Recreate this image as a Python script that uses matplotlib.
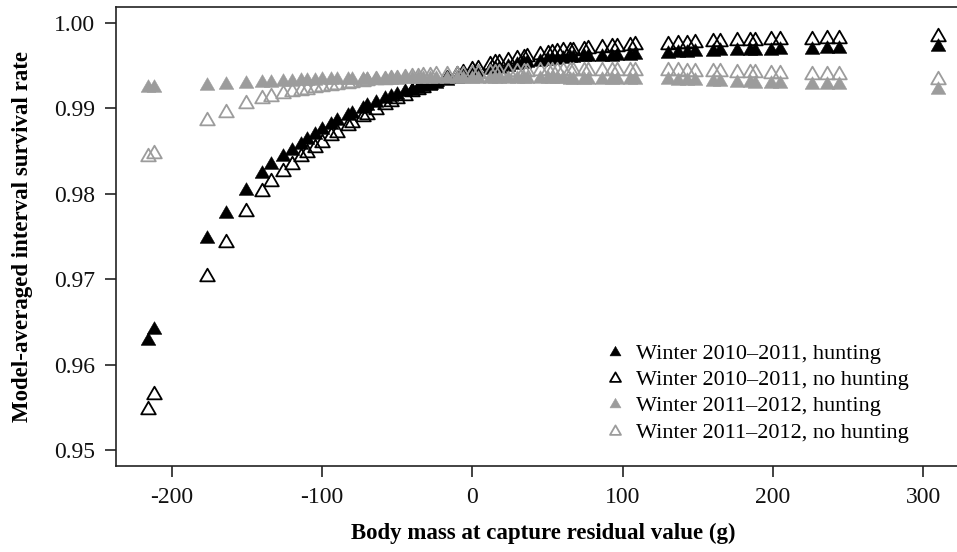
import matplotlib
matplotlib.use('Agg')
import matplotlib.pyplot as plt
from matplotlib.path import Path

# Body mass at capture residual value (g), one per bird
mass = [-216, -212, -177, -164, -151, -140, -134, -126, -120, -114,
        -110, -105, -100, -94, -90, -83, -80, -73, -70, -64,
        -58, -54, -50, -45, -40, -36, -33, -28, -24, -17,
        -10, -6, 0, 4, 12, 15, 18, 24, 30, 34,
        36, 45, 50, 53, 56, 60, 65, 67, 74, 77,
        86, 93, 96, 105, 108, 130, 137, 143, 148, 160,
        165, 176, 185, 188, 199, 205, 226, 236, 244, 310]

# Winter 2010-2011, hunting
w1011_hunt = [0.9630, 0.9643, 0.9749, 0.9779, 0.9806, 0.9825, 0.9836, 0.9845, 0.9852, 0.9860,
              0.9865, 0.9871, 0.9877, 0.9883, 0.9887, 0.9893, 0.9896, 0.9902, 0.9905, 0.9909,
              0.9913, 0.9916, 0.9918, 0.9921, 0.9923, 0.9925, 0.9927, 0.9929, 0.9931, 0.9934,
              0.9937, 0.9939, 0.9942, 0.9944, 0.9947, 0.9948, 0.9949, 0.9951, 0.9953, 0.9954,
              0.9955, 0.9957, 0.9958, 0.9959, 0.9959, 0.9960, 0.9961, 0.9961, 0.9962, 0.9962,
              0.9963, 0.9963, 0.9964, 0.9964, 0.9965, 0.9966, 0.9967, 0.9967, 0.9968, 0.9968,
              0.9969, 0.9969, 0.9970, 0.9970, 0.9970, 0.9971, 0.9971, 0.9972, 0.9972, 0.9974]

# Winter 2010-2011, no hunting
w1011_nohunt = [0.9549, 0.9567, 0.9705, 0.9745, 0.9781, 0.9804, 0.9816, 0.9828, 0.9836, 0.9845,
                0.9850, 0.9856, 0.9862, 0.9870, 0.9874, 0.9882, 0.9885, 0.9892, 0.9895, 0.9901,
                0.9906, 0.9910, 0.9913, 0.9917, 0.9921, 0.9924, 0.9926, 0.9930, 0.9933, 0.9937,
                0.9941, 0.9944, 0.9947, 0.9949, 0.9953, 0.9955, 0.9956, 0.9958, 0.9960, 0.9961,
                0.9962, 0.9965, 0.9966, 0.9967, 0.9968, 0.9969, 0.9970, 0.9970, 0.9971, 0.9972,
                0.9973, 0.9974, 0.9974, 0.9975, 0.9976, 0.9977, 0.9978, 0.9978, 0.9979, 0.9980,
                0.9980, 0.9981, 0.9981, 0.9981, 0.9982, 0.9982, 0.9983, 0.9984, 0.9984, 0.9986]

# Winter 2011-2012, hunting
w1112_hunt = [0.9926, 0.9926, 0.9929, 0.9930, 0.9931, 0.9932, 0.9932, 0.9933, 0.9933, 0.9934,
              0.9934, 0.9934, 0.9935, 0.9935, 0.9935, 0.9936, 0.9936, 0.9936, 0.9936, 0.9936,
              0.9936, 0.9936, 0.9936, 0.9937, 0.9937, 0.9937, 0.9937, 0.9937, 0.9937, 0.9937,
              0.9937, 0.9937, 0.9937, 0.9937, 0.9937, 0.9937, 0.9937, 0.9937, 0.9937, 0.9937,
              0.9937, 0.9937, 0.9937, 0.9937, 0.9937, 0.9937, 0.9936, 0.9936, 0.9936, 0.9936,
              0.9936, 0.9936, 0.9936, 0.9936, 0.9936, 0.9935, 0.9934, 0.9934, 0.9934, 0.9933,
              0.9933, 0.9932, 0.9932, 0.9931, 0.9931, 0.9931, 0.9930, 0.9930, 0.9930, 0.9924]

# Winter 2011-2012, no hunting
w1112_nohunt = [0.9846, 0.9849, 0.9887, 0.9897, 0.9907, 0.9913, 0.9916, 0.9919, 0.9921, 0.9923,
                0.9924, 0.9926, 0.9927, 0.9929, 0.9930, 0.9931, 0.9932, 0.9933, 0.9934, 0.9935,
                0.9936, 0.9937, 0.9937, 0.9938, 0.9939, 0.9939, 0.9940, 0.9940, 0.9941, 0.9941,
                0.9942, 0.9942, 0.9943, 0.9943, 0.9944, 0.9944, 0.9944, 0.9945, 0.9945, 0.9945,
                0.9945, 0.9946, 0.9946, 0.9946, 0.9946, 0.9946, 0.9946, 0.9946, 0.9946, 0.9946,
                0.9946, 0.9946, 0.9946, 0.9946, 0.9946, 0.9946, 0.9946, 0.9945, 0.9945, 0.9945,
                0.9945, 0.9944, 0.9944, 0.9944, 0.9943, 0.9943, 0.9942, 0.9942, 0.9941, 0.9936]

series_labels = ['Winter 2010\u20132011, hunting',
                 'Winter 2010\u20132011, no hunting',
                 'Winter 2011\u20132012, hunting',
                 'Winter 2011\u20132012, no hunting']

x_ticks = [-200, -100, 0, 100, 200, 300]
x_ticklabels = ['-200', '-100', '0', '100', '200', '300']
y_ticks = [0.95, 0.96, 0.97, 0.98, 0.99, 1.00]
y_ticklabels = ['0.95', '0.96', '0.97', '0.98', '0.99', '1.00']

plt.rcParams['font.family'] = ['Liberation Serif', 'DejaVu Serif']

fig = plt.figure(figsize=(9.57, 5.52), dpi=100)
ax = fig.add_axes([0.1212, 0.1558, 0.8920, 0.8315])

# equilateral triangle marker (like R's pch 2 / 17)
tri = Path([(-1.0, -0.80), (1.0, -0.80), (0.0, 0.93), (0.0, 0.0)],
           [Path.MOVETO, Path.LINETO, Path.LINETO, Path.CLOSEPOLY])

BLACK = '#000000'
GREY = '#9c9c9c'
ms = 10.5
mew = 1.3

ax.plot(mass, w1011_hunt, linestyle='none', marker=tri, ms=ms,
        mfc=BLACK, mec=BLACK, mew=0.4, label=series_labels[0])
ax.plot(mass, w1011_nohunt, linestyle='none', marker=tri, ms=ms,
        mfc='none', mec=BLACK, mew=mew, label=series_labels[1])
ax.plot(mass, w1112_hunt, linestyle='none', marker=tri, ms=ms,
        mfc=GREY, mec=GREY, mew=0.4, label=series_labels[2])
ax.plot(mass, w1112_nohunt, linestyle='none', marker=tri, ms=ms,
        mfc='none', mec=GREY, mew=mew, label=series_labels[3])

ax.set_xlim(-237.3, 331)
ax.set_ylim(0.94813, 1.00187)
ax.set_xticks(x_ticks)
ax.set_xticklabels(x_ticklabels)
ax.set_yticks(y_ticks)
ax.set_yticklabels(y_ticklabels)

for s in ['top', 'left', 'bottom', 'right']:
    ax.spines[s].set_linewidth(1.2)
    ax.spines[s].set_color('#222222')
ax.tick_params(direction='out', length=8, width=1.2, labelsize=17,
               colors='#222222', labelcolor='#111111')
ax.tick_params(axis='x', pad=7)
ax.tick_params(axis='y', pad=7)

ax.set_xlabel('Body mass at capture residual value (g)', fontsize=16.5,
              fontweight='bold')
ax.set_ylabel('Model-averaged interval survival rate', fontsize=16.5,
              fontweight='bold')
ax.xaxis.set_label_coords(0.5, -0.146)
ax.xaxis.label.set_va('center')
ax.yaxis.set_label_coords(-0.110, 0.5)
ax.yaxis.label.set_va('center')

ax.legend(loc='upper left', bbox_to_anchor=(0.572, 0.268), frameon=False,
          fontsize=16, handlelength=1.0, handletextpad=0.45, labelspacing=0.26,
          borderaxespad=0, borderpad=0, markerscale=0.75)

fig.savefig('out.png', dpi=100)
